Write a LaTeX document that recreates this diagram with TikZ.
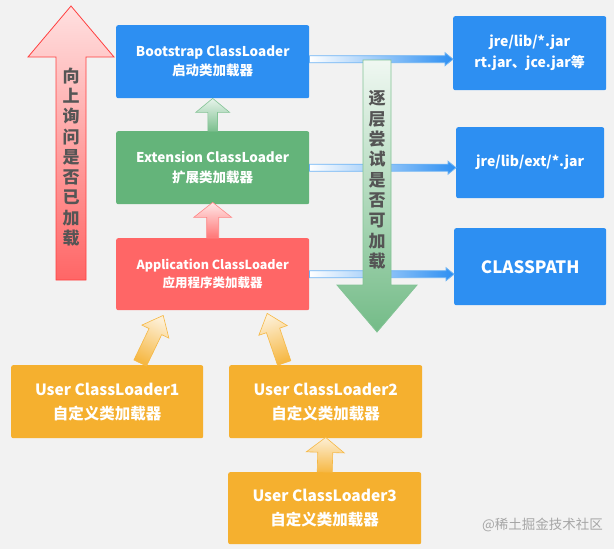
\documentclass[tikz,border=0pt]{standalone}
\usepackage{fontspec}
\setmainfont{Noto Sans CJK SC}
\usetikzlibrary{calc}
\definecolor{bg}{RGB}{242,242,242}
\definecolor{cblue}{RGB}{45,143,242}
\definecolor{cgreen}{RGB}{100,180,122}
\definecolor{cred}{RGB}{255,102,102}
\definecolor{corange}{RGB}{245,176,47}
\definecolor{ctext}{RGB}{85,85,85}
\definecolor{cline}{RGB}{110,180,245}
% #1 style, #2 start, #3 tip, #4 half shaft, #5 half head, #6 head length
\newcommand\fatarrow[6]{%
  \coordinate (fa-hb) at ($(#3)!#6!(#2)$);
  \coordinate (fa-s) at (#2);
  \coordinate (fa-t) at (#3);
  \path[#1] ($(fa-s)!#4!90:(fa-t)$) -- ($(fa-hb)!#4!-90:(fa-s)$) -- ($(fa-hb)!#5!-90:(fa-s)$) -- (fa-t)
    -- ($(fa-hb)!#5!90:(fa-s)$) -- ($(fa-hb)!#4!90:(fa-s)$) -- ($(fa-s)!#4!-90:(fa-t)$) -- cycle;}
\begin{document}
\begin{tikzpicture}[x=1pt,y=-1pt,
  box/.style={rounded corners=2pt, inner sep=0pt, text=white, align=center, anchor=north west},
  conn/.style={draw=cline, line width=0.8pt, left color=white, right color=cblue},
  vtext/.style={text=ctext, align=center, font=\bfseries\fontsize{17}{20.3}\selectfont}]
\fill[bg] (0,0) rectangle (614,549);
% boxes
\node[box, fill=cblue, minimum width=193pt, minimum height=73pt, font=\bfseries\fontsize{13.5}{19}\selectfont] (boot) at (116,25) {Bootstrap ClassLoader\\启动类加载器};
\node[box, fill=cgreen, minimum width=193pt, minimum height=73pt, font=\bfseries\fontsize{13.5}{20}\selectfont] (ext) at (116,131) {Extension ClassLoader\\扩展类加载器};
\node[box, fill=cred, minimum width=193pt, minimum height=72pt, font=\bfseries\fontsize{12.5}{18.5}\selectfont] (app) at (116,238) {Application ClassLoader\\应用程序类加载器};
\node[box, fill=cblue, minimum width=153pt, minimum height=74pt, font=\bfseries\fontsize{14}{21}\selectfont] (jre1) at (453,16) {jre/lib/*.jar\\rt.jar、jce.jar等};
\node[box, fill=cblue, minimum width=148pt, minimum height=71pt, font=\bfseries\fontsize{14}{21}\selectfont] (jre2) at (456,127) {jre/lib/ext/*.jar};
\node[box, fill=cblue, minimum width=152pt, minimum height=77pt, font=\bfseries\fontsize{17}{21}\selectfont] (cp) at (454,228) {CLASSPATH};
\node[box, fill=corange, minimum width=192pt, minimum height=73pt, font=\bfseries\fontsize{15.5}{24}\selectfont] (u1) at (11,365) {User ClassLoader1\\自定义类加载器};
\node[box, fill=corange, minimum width=193pt, minimum height=73pt, font=\bfseries\fontsize{15.5}{24}\selectfont] (u2) at (229,365) {User ClassLoader2\\自定义类加载器};
\node[box, fill=corange, minimum width=193pt, minimum height=72pt, font=\bfseries\fontsize{15.5}{24}\selectfont] (u3) at (228,472) {User ClassLoader3\\自定义类加载器};
% horizontal connectors
\coordinate (c1s) at ($(boot.east)+(0,-2.5)$);
\fatarrow{conn}{c1s}{jre1.west |- c1s}{3.5pt}{6.5pt}{8pt}
\fatarrow{conn}{ext.east}{jre2.west |- ext.east}{3.5pt}{6.5pt}{8pt}
\fatarrow{conn}{app.east}{cp.west |- app.east}{3.5pt}{6.5pt}{8pt}
% big red up arrow
\coordinate (ra-s) at (71,280);
\coordinate (ra-t) at (71,6);
\fatarrow{draw=red!75!white, line width=0.8pt, top color=red!12!white, bottom color=red!60!white}{ra-s}{ra-t}{15pt}{43pt}{51pt}
\node[vtext] (ratext) at (71,157) {向\\上\\询\\问\\是\\否\\已\\加\\载};
% big green down arrow
\coordinate (ga-s) at (377,60);
\coordinate (ga-t) at (377,332);
\fatarrow{draw=cgreen!80!white, line width=0.8pt, top color=cgreen!10!white, bottom color=cgreen!90!white}{ga-s}{ga-t}{14pt}{40pt}{47pt}
\node[vtext] (gatext) at (377,180) {逐\\层\\尝\\试\\是\\否\\可\\加\\载};
% small arrows between loaders
\fatarrow{draw=cgreen!80!white, line width=0.6pt, top color=cgreen!15!white, bottom color=cgreen!85!white}{ext.north}{boot.south}{4.8pt}{17pt}{14pt}
\fatarrow{draw=cred!80!white, line width=0.6pt, top color=cred!15!white, bottom color=cred!90!white}{app.north}{$(ext.south)+(0,-2)$}{6pt}{19pt}{15pt}
\fatarrow{draw=corange!90!white, line width=0.6pt, top color=corange!20!white, bottom color=corange!90!white}{u3.north}{$(u2.south)+(0,-1)$}{7.5pt}{19pt}{15pt}
\fatarrow{draw=corange!90!white, line width=0.6pt, top color=corange!20!white, bottom color=corange!90!white, shading angle=-25.6}{$(u1.north)+(33,-2)$}{$(app.south)+(-49.5,5)$}{7pt}{15pt}{18pt}
\fatarrow{draw=corange!90!white, line width=0.6pt, top color=corange!20!white, bottom color=corange!90!white, shading angle=18.8}{$(u2.north)+(-41.5,-2)$}{$(app.south)+(54.5,3)$}{7pt}{15pt}{18pt}
% watermark
\node[text=black!35, font=\fontsize{13.5}{14}\selectfont, anchor=west, inner sep=0pt] (wm) at (482,525) {@稀土掘金技术社区};
\end{tikzpicture}
\end{document}
